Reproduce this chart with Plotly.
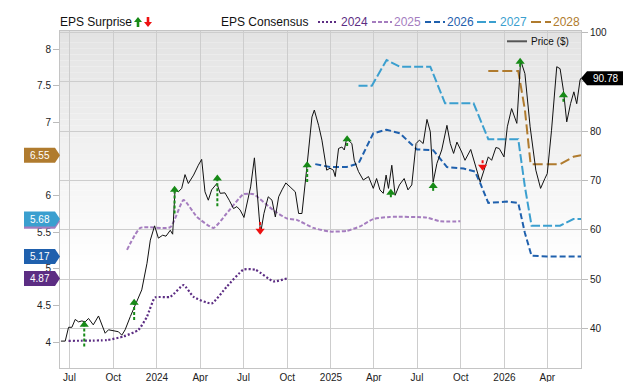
import plotly.graph_objects as go

# ---------------- data ----------------
price_dates = ["2023-06-13","2023-06-22","2023-06-29","2023-07-06","2023-07-13","2023-07-20","2023-07-27","2023-08-03",
    "2023-08-10","2023-08-20","2023-08-31","2023-09-14","2023-09-21","2023-10-02","2023-10-12","2023-10-19","2023-10-26",
    "2023-11-06","2023-11-20","2023-11-30","2023-12-11","2023-12-18","2023-12-27","2024-01-04","2024-01-13","2024-01-20",
    "2024-01-29","2024-02-03","2024-02-08","2024-02-15","2024-02-22","2024-02-29","2024-03-07","2024-03-18","2024-03-28",
    "2024-04-04","2024-04-11","2024-04-18","2024-04-25","2024-05-06","2024-05-13","2024-05-23","2024-06-01","2024-06-10",
    "2024-06-17","2024-06-24","2024-07-02","2024-07-08","2024-07-16","2024-07-24","2024-07-29","2024-08-03","2024-08-06",
    "2024-08-13","2024-08-22","2024-08-30","2024-09-06","2024-09-13","2024-09-20","2024-09-28","2024-10-07","2024-10-18",
    "2024-10-25","2024-11-01","2024-11-11","2024-11-22","2024-11-27","2024-12-06","2024-12-13","2024-12-23","2024-12-30",
    "2025-01-06","2025-01-10","2025-01-17","2025-01-24","2025-01-29","2025-02-03","2025-02-14","2025-02-19","2025-02-28",
    "2025-03-10","2025-03-21","2025-03-31","2025-04-07","2025-04-14","2025-04-21","2025-04-27","2025-05-02","2025-05-09",
    "2025-05-16","2025-05-25","2025-06-04","2025-06-12","2025-06-20","2025-06-29","2025-07-06","2025-07-14","2025-07-22",
    "2025-07-29","2025-08-04","2025-08-12","2025-08-22","2025-09-02","2025-09-09","2025-09-16","2025-09-23","2025-10-03",
    "2025-10-10","2025-10-22","2025-10-31","2025-11-11","2025-11-19","2025-11-28","2025-12-05","2025-12-14","2025-12-21",
    "2025-12-31","2026-01-07","2026-01-16","2026-01-27","2026-02-04","2026-02-13","2026-02-24","2026-03-08","2026-03-18",
    "2026-03-27","2026-04-01","2026-04-10","2026-04-21","2026-04-28","2026-05-05","2026-05-12","2026-05-20","2026-05-27",
    "2026-06-02","2026-06-09","2026-06-11"]
price_vals = [37.4,37.4,40.2,40.2,41.8,41.3,41.5,41.3,
    42.0,40.7,42.5,39.0,39.7,39.5,39.3,38.6,39.7,
    42.4,45.7,47.8,53.2,57.9,60.8,58.3,58.9,58.7,
    59.9,59.1,68.1,67.7,68.4,71.2,69.4,71.1,73.1,
    74.3,67.7,66.0,68.1,69.4,67.4,67.5,66.0,64.3,
    64.7,64.0,62.5,65.4,68.7,74.6,69.4,62.6,59.3,
    63.3,66.7,66.0,62.6,66.7,68.1,69.5,68.7,67.7,
    63.3,63.3,72.4,82.9,84.3,81.2,78.2,72.1,72.5,
    72.1,70.8,76.5,76.8,76.2,78.5,77.5,74.1,71.8,
    70.1,70.8,68.4,70.4,68.1,67.4,71.1,68.4,73.1,
    67.0,69.1,70.4,68.1,69.1,77.5,78.2,77.5,82.4,
    79.9,69.7,73.5,76.2,81.2,77.5,75.5,77.8,75.8,
    74.1,76.3,73.5,69.7,72.1,74.8,74.1,76.7,76.5,
    74.8,80.9,84.6,81.6,94.4,91.7,80.9,72.1,68.4,
    70.4,71.4,80.2,93.1,92.7,88.3,81.9,85.6,88.0,
    85.6,90.4,90.78]

eps2024_dates = ["2023-06-29","2023-09-18","2023-10-23","2023-11-23","2023-12-11","2023-12-28","2024-01-29","2024-02-26",
    "2024-03-18","2024-04-25","2024-05-27","2024-07-01","2024-07-26","2024-09-02","2024-09-30"]
eps2024_vals = [4.02,4.03,4.08,4.17,4.35,4.61,4.62,4.78,4.62,4.53,4.76,4.99,4.99,4.83,4.87]

eps2025_dates = ["2023-10-30","2023-11-27","2024-01-29","2024-02-26","2024-03-25","2024-04-29","2024-05-27","2024-07-01",
    "2024-07-22","2024-09-02","2024-09-30","2024-10-21","2024-11-25","2024-12-30","2025-02-03","2025-03-03","2025-03-31",
    "2025-05-05","2025-07-22","2025-08-19","2025-09-30"]
eps2025_vals = [5.26,5.56,5.57,5.94,5.71,5.56,5.76,6.02,6.02,5.80,5.69,5.67,5.56,5.51,5.52,5.58,5.68,5.71,5.70,5.65,5.65]

eps2026_dates = ["2024-11-29","2024-12-30","2025-02-03","2025-02-28","2025-03-31","2025-04-28","2025-05-26","2025-07-01",
    "2025-08-04","2025-09-02","2025-10-07","2025-10-31","2025-11-11","2025-11-28","2026-01-06","2026-01-30","2026-02-13",
    "2026-02-27","2026-03-31","2026-06-11"]
eps2026_vals = [6.43,6.39,6.39,6.44,6.85,6.90,6.85,6.63,6.62,6.39,6.37,6.33,6.17,5.90,5.92,5.90,5.49,5.18,5.17,5.17]

eps2027_dates = ["2025-02-28","2025-03-28","2025-04-28","2025-05-26","2025-07-29","2025-08-29","2025-10-28","2025-11-28",
    "2026-01-30","2026-02-13","2026-02-27","2026-04-28","2026-05-26","2026-06-11"]
eps2027_vals = [7.50,7.50,7.85,7.76,7.76,7.26,7.26,6.77,6.77,6.12,5.59,5.59,5.68,5.68]

eps2028_dates = ["2025-11-28","2026-01-30","2026-02-13","2026-02-25","2026-04-28","2026-05-26","2026-06-11"]
eps2028_vals = [7.70,7.70,7.17,6.43,6.43,6.53,6.55]

surprise_dates = ["2023-08-01","2023-11-14","2024-02-07","2024-05-07","2024-08-05","2024-11-12",
    "2025-02-04","2025-05-07","2025-08-04","2025-11-16","2026-02-03","2026-05-05"]
surprise_dir = ["up","up","up","up","down","up","up","up","up","down","up","up"]
surprise_tip = [40.7,45.2,68.1,70.4,59.8,73.1,78.4,67.5,68.9,72.8,94.1,87.3]
surprise_tail = [36.3,41.7,63.3,64.8,61.6,69.7,77.0,66.6,67.9,74.1,93.1,86.0]

month_ticks = ["2023-07-01","2023-10-01","2024-01-01","2024-04-01","2024-07-01","2024-10-01","2025-01-01",
    "2025-04-01","2025-07-01","2025-10-01","2026-01-01","2026-04-01"]
month_labels = ["Jul","Oct","2024","Apr","Jul","Oct","2025","Apr","Jul","Oct","2026","Apr"]
left_ticks = [4, 4.5, 5, 5.5, 6, 7, 7.5, 8]
left_labels = ["4", "4.5", "5", "5.5", "6", "7", "7.5", "8"]
right_ticks = [40, 50, 60, 70, 80, 90, 100]
right_labels = ["40", "50", "60", "70", "80", "", "100"]   # 90 is hidden under the price tag

years = ["2024", "2025", "2026", "2027", "2028"]
colors = {"2024": "#5c2d83", "2025": "#a57dbf", "2026": "#1f60ad", "2027": "#3b9fcf", "2028": "#b07b2e"}
dashes = {"2024": "2px,2px", "2025": "4px,2px", "2026": "6px,3px", "2027": "9px,3px", "2028": "10px,4px"}
series = {"2024": (eps2024_dates, eps2024_vals), "2025": (eps2025_dates, eps2025_vals),
          "2026": (eps2026_dates, eps2026_vals), "2027": (eps2027_dates, eps2027_vals),
          "2028": (eps2028_dates, eps2028_vals)}

FONT = "Liberation Sans, Arial, sans-serif"
GREEN = "#178a17"
RED = "#ee1111"

# geometry helpers (pixel -> paper)
L, R, T, B = 60, 581, 31, 368
def px(x):
    return (x - L) / (R - L)
def py(y):
    return (B - y) / (B - T)

fig = go.Figure()

# consensus lines
for yr in years:
    d, v = series[yr]
    fig.add_trace(go.Scatter(x=d, y=v, mode="lines", yaxis="y",
                             line=dict(color=colors[yr], width=2.2 if yr == "2024" else 2, dash=dashes[yr],
                                       shape="spline" if yr in ("2024", "2025") else "linear", smoothing=0.5),
                             hoverinfo="skip", showlegend=False))

# price line
fig.add_trace(go.Scatter(x=price_dates, y=price_vals, mode="lines", yaxis="y2",
                         line=dict(color="#111111", width=1), showlegend=False))

# surprise arrows
for dirn, col, sym in (("up", GREEN, "triangle-up"), ("down", RED, "triangle-down")):
    sx, sy, mx, my = [], [], [], []
    for d, dr, tip, tail in zip(surprise_dates, surprise_dir, surprise_tip, surprise_tail):
        if dr != dirn:
            continue
        sx += [d, d, None]
        sy += [tail, tip, None]
        mx.append(d)
        my.append(tip)
    fig.add_trace(go.Scatter(x=sx, y=sy, mode="lines", yaxis="y2",
                             line=dict(color=col, width=2, dash="3px,2px"), showlegend=False, hoverinfo="skip"))
    fig.add_trace(go.Scatter(x=mx, y=my, mode="markers", yaxis="y2",
                             marker=dict(symbol=sym, size=8, color=col), showlegend=False))

shapes = []
# gradient plot background
N = 40
for i in range(N):
    y0 = 0.3 + (1 - 0.3) * i / N
    y1 = 0.3 + (1 - 0.3) * (i + 1) / N
    t = (i + 0.5) / N
    g = int(round(255 - t * (255 - 0xe3)))
    shapes.append(dict(type="rect", xref="paper", yref="paper", x0=0, x1=1, y0=y0, y1=y1,
                       fillcolor=f"rgb({g},{g},{g})", line=dict(width=0), layer="below"))

annotations = []

# left value tags (draw 2025 first so that 2027 covers it)
tag_order = ["2025", "2028", "2026", "2024", "2027"]
for yr in tag_order:
    v = series[yr][1][-1]
    shapes.append(dict(type="path", xref="paper", yref="y", xsizemode="pixel", ysizemode="pixel",
                       xanchor=0, yanchor=v,
                       path="M -36,-7.5 L -5,-7.5 L 0,0 L -5,7.5 L -36,7.5 Z",
                       fillcolor=colors[yr], line=dict(width=0), layer="above"))
    if yr != "2025":
        annotations.append(dict(x=0, y=v, xref="paper", yref="y", text=f"{v:.2f}", showarrow=False,
                                xanchor="center", yanchor="middle", xshift=-20,
                                font=dict(family=FONT, size=10, color="white")))

# right price tag
last_price = price_vals[-1]
shapes.append(dict(type="path", xref="paper", yref="y2", xsizemode="pixel", ysizemode="pixel",
                   xanchor=1, yanchor=last_price,
                   path="M 0,0 L 6,7 L 42,7 L 42,-7 L 6,-7 Z",
                   fillcolor="#000000", line=dict(width=0), layer="above"))
annotations.append(dict(x=1, y=last_price, xref="paper", yref="y2", text=f"{last_price:.2f}", showarrow=False,
                        xanchor="center", yanchor="middle", xshift=24,
                        font=dict(family=FONT, size=10, color="white")))

# top legend
ly = py(22)
annotations.append(dict(x=px(60), y=ly, xref="paper", yref="paper", text="EPS Surprise", showarrow=False,
                        xanchor="left", yanchor="middle", xshift=-2, font=dict(family=FONT, size=12, color="#111")))
shapes.append(dict(type="path", xref="paper", yref="paper", xsizemode="pixel", ysizemode="pixel",
                   xanchor=px(138), yanchor=ly,
                   path="M -4,0 L 0,5 L 4,0 L 1.3,0 L 1.3,-5 L -1.3,-5 L -1.3,0 Z",
                   fillcolor=GREEN, line=dict(width=0)))
shapes.append(dict(type="path", xref="paper", yref="paper", xsizemode="pixel", ysizemode="pixel",
                   xanchor=px(148), yanchor=ly,
                   path="M -4,0 L 0,-5 L 4,0 L 1.3,0 L 1.3,5 L -1.3,5 L -1.3,0 Z",
                   fillcolor=RED, line=dict(width=0)))
annotations.append(dict(x=px(221), y=ly, xref="paper", yref="paper", text="EPS Consensus", showarrow=False,
                        xanchor="left", yanchor="middle", xshift=-2, font=dict(family=FONT, size=12, color="#111")))
leg_line = {"2024": (318, 337), "2025": (372, 392), "2026": (425, 445), "2027": (477, 496), "2028": (531, 551)}
leg_text = {"2024": 341, "2025": 394, "2026": 447, "2027": 500, "2028": 553}
for yr in years:
    a, b = leg_line[yr]
    shapes.append(dict(type="line", xref="paper", yref="paper", x0=px(a), x1=px(b), y0=ly, y1=ly,
                       line=dict(color=colors[yr], width=2.2, dash=dashes[yr])))
    annotations.append(dict(x=px(leg_text[yr]), y=ly, xref="paper", yref="paper", text=yr, showarrow=False,
                            xanchor="left", yanchor="middle", xshift=-2,
                            font=dict(family=FONT, size=12, color=colors[yr])))

# price legend inside plot
shapes.append(dict(type="line", xref="paper", yref="paper", x0=px(507), x1=px(527), y0=py(41.3), y1=py(41.3),
                   line=dict(color="#555555", width=2)))
annotations.append(dict(x=px(531), y=py(41.3), xref="paper", yref="paper", text="Price ($)", showarrow=False,
                        xanchor="left", yanchor="middle", xshift=-2, font=dict(family=FONT, size=10, color="#111")))

GRID = "#cdcdcd"
fig.update_layout(
    width=640, height=382,
    margin=dict(l=L, r=640 - R, t=T, b=382 - B, autoexpand=False),
    paper_bgcolor="white", plot_bgcolor="white",
    font=dict(family=FONT, size=10, color="#222"),
    showlegend=False,
    xaxis=dict(type="date", range=["2023-06-11", "2026-06-11"], tickvals=month_ticks, ticktext=month_labels,
               showgrid=True, gridcolor=GRID, gridwidth=1, showline=True, linecolor="#c4c4c4", mirror=True,
               ticks="", tickfont=dict(size=10, color="#222"), zeroline=False, automargin=False),
    yaxis=dict(range=[3.649, 8.246], tickvals=left_ticks, ticktext=left_labels, showgrid=False, zeroline=False,
               ticks="outside", ticklen=6, tickcolor="#bbbbbb", showline=True, linecolor="#c4c4c4",
               tickfont=dict(size=10, color="#222"), automargin=False),
    yaxis2=dict(range=[31.94, 100.35], tickvals=right_ticks, ticktext=right_labels, overlaying="y", side="right",
                showgrid=True, gridcolor=GRID, zeroline=False, ticks="outside", ticklen=6, tickcolor="#bbbbbb",
                showline=True, linecolor="#c4c4c4", tickfont=dict(size=10, color="#222"), automargin=False),
    shapes=shapes, annotations=annotations,
)

fig.write_html("out.html")
